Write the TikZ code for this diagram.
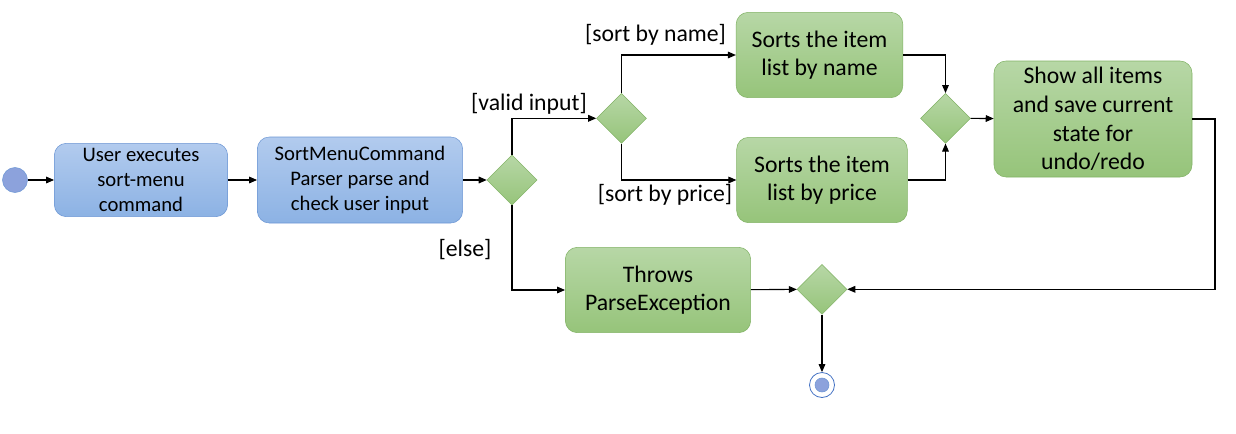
\documentclass[tikz,border=0pt]{standalone}
\usepackage{fontspec}
\setmainfont{Carlito}
\usetikzlibrary{shapes.geometric,arrows.meta}
\definecolor{bluetop}{RGB}{178,203,238}
\definecolor{bluebot}{RGB}{140,178,228}
\definecolor{blueline}{RGB}{108,150,212}
\definecolor{greentop}{RGB}{183,215,166}
\definecolor{greenbot}{RGB}{150,196,122}
\definecolor{greenline}{RGB}{130,179,102}
\definecolor{dotfill}{RGB}{140,162,220}
\definecolor{ringline}{RGB}{68,114,196}
\begin{document}
\begin{tikzpicture}[x=0.75pt, y=-0.75pt,
  bluebox/.style={draw=blueline, rounded corners=9pt, top color=bluetop, bottom color=bluebot,
    align=center, inner sep=0pt, font=\fontsize{15.5}{18.75}\selectfont},
  greenbox/.style={draw=greenline, rounded corners=9pt, top color=greentop, bottom color=greenbot,
    align=center, inner sep=0pt, font=\fontsize{17.8}{21.4}\selectfont},
  branch/.style={diamond, draw=greenline, top color=greentop, bottom color=greenbot,
    minimum width=37.5pt, minimum height=37.5pt, inner sep=0pt},
  guard/.style={font=\fontsize{17.8}{21.4}\selectfont, inner sep=0pt},
  flow/.style={draw=black, line width=0.8pt, -{Triangle[length=6pt, width=5pt]}}]
\useasboundingbox (0,0) rectangle (1236,433);

% start and first steps
\node[circle, draw=blueline, fill=dotfill, minimum size=18.75pt, inner sep=0pt] (start) at (15,180) {};
\node[bluebox, minimum width=130pt, minimum height=55pt] (execute) at (141,180) {User executes\\sort-menu\\command};
\node[bluebox, minimum width=154pt, minimum height=64.5pt] (parse) at (360,180) {SortMenuCommand\\Parser parse and\\check user input};
\node[branch] (valid) at (512,180) {};

% sorting branch
\node[branch] (sortkind) at (621.5,118.3) {};
\node[greenbox, minimum width=125pt, minimum height=64pt] (byname) at (819.5,55) {Sorts the item\\list by name};
\node[greenbox, minimum width=128pt, minimum height=64pt] (byprice) at (822,180) {Sorts the item\\list by price};
\node[branch] (sorted) at (945.5,118.3) {};
\node[greenbox, minimum width=148.5pt, minimum height=87pt] (show) at (1093,119) {Show all items\\and save current\\state for\\undo/redo};

% error branch and end
\node[greenbox, minimum width=139pt, minimum height=64pt] (throw) at (658,290) {Throws\\ParseException};
\node[branch] (done) at (822,289.3) {};
\node[circle, draw=ringline, line width=0.6pt, fill=white, minimum size=18.75pt, inner sep=0pt] (stop) at (822,385) {};
\node[circle, draw=blueline, fill=dotfill, minimum size=10.5pt, inner sep=0pt] at (stop) {};
\coordinate (back) at (1215,289.3);

% guards
\node[guard] (validlabel) at (529,104) {[valid input]};
\node[guard] (elselabel) at (465,250) {[else]};
\node[guard] (namelabel) at (655.5,35) {[sort by name]};
\node[guard] (pricelabel) at (665,195) {[sort by price]};

\draw[flow] (start) -- (execute);
\draw[flow] (execute) -- (parse);
\draw[flow] (parse) -- (valid);
\draw[flow] (valid.north) |- (sortkind.west);
\draw[flow] (valid.south) |- (throw.west);
\draw[flow] (sortkind.north) |- (byname.west);
\draw[flow] (sortkind.south) |- (byprice.west);
\draw[flow] (byname.east) -| (sorted.north);
\draw[flow] (byprice.east) -| (sorted.south);
\draw[flow] (sorted) -- (show);
\draw[flow] (show.east) -| (back) -- (done.east);
\draw[flow] (throw) -- (done);
\draw[flow] (done) -- (stop);

\end{tikzpicture}
\end{document}
